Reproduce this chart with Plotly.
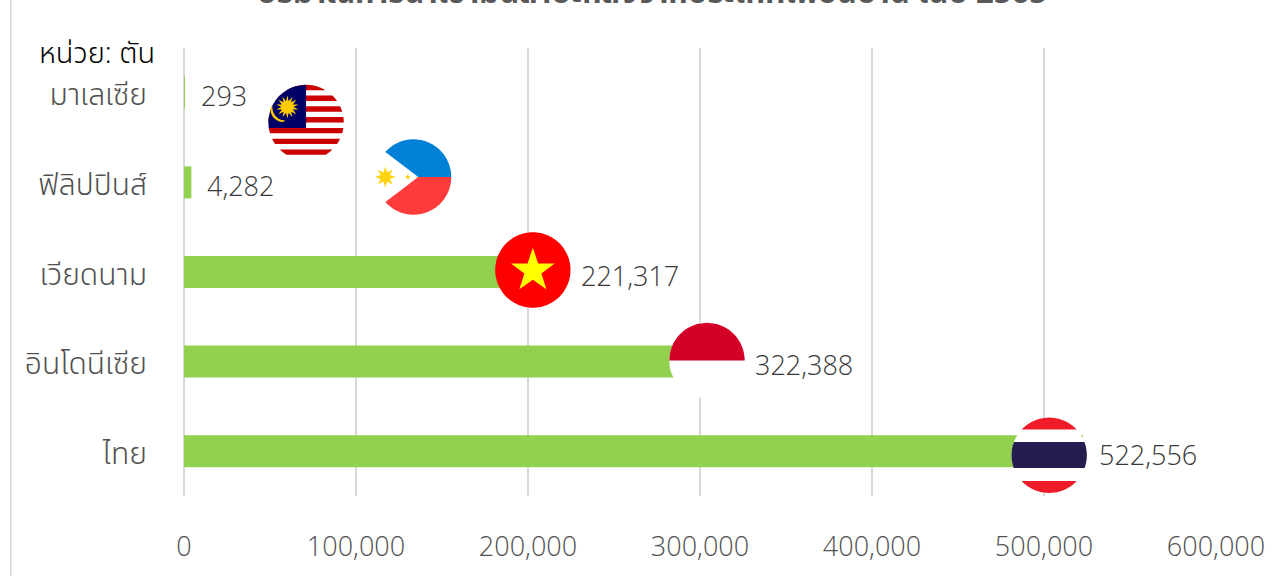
import numpy as np
import plotly.graph_objects as go

categories = ["ไทย", "อินโดนีเซีย", "เวียดนาม", "ฟิลิปปินส์", "มาเลเซีย"]
values = [522556, 322388, 221317, 4282, 293]
x_ticks = [0, 100000, 200000, 300000, 400000, 500000, 600000]
title_text = "ปริมาณการนำเข้ามันสำปะหลังจากประเทศเพื่อนบ้าน ในปี 2565"
unit_text = "หน่วย: ตัน"

W, H = 1280, 576
L, R, T, B = 183.5, 1216.5, 48, 496
FONT = "Open Sans, Noto Sans Thai, Noto Sans, sans-serif"
GRAY = "#505050"
LABEL = "#383838"

def px(x): return (x - L) / (R - L)
def py(y): return (B - y) / (B - T)

def path(points):
    return "M " + " L ".join(f"{px(x):.5f},{py(y):.5f}" for x, y in points) + " Z"

def poly(points, color):
    return dict(type="path", xref="paper", yref="paper", path=path(points),
                fillcolor=color, line=dict(width=0), layer="above")

def circle_pts(cx, cy, r, n=120):
    a = np.linspace(0, 2 * np.pi, n, endpoint=False)
    return list(zip(cx + r * np.cos(a), cy + r * np.sin(a)))

def band(cx, cy, r, y0, y1, x_max=None, n=30):
    """Part of a circle between two horizontal lines, optionally cut at x_max."""
    y0, y1 = max(y0, cy - r), min(y1, cy + r)
    ys = np.linspace(y0, y1, n)
    hw = np.sqrt(np.maximum(r * r - (ys - cy) ** 2, 0))
    left = list(zip(cx - hw, ys))
    rx = cx + hw if x_max is None else np.minimum(cx + hw, x_max)
    right = list(zip(rx, ys))
    return left + right[::-1]

def star(cx, cy, r_out, r_in, k):
    a = -np.pi / 2 + np.arange(2 * k) * np.pi / k
    rad = np.where(np.arange(2 * k) % 2 == 0, r_out, r_in)
    return list(zip(cx + rad * np.cos(a), cy + rad * np.sin(a)))

shapes = [dict(type="line", xref="paper", yref="paper", x0=px(10), x1=px(10), y0=py(0), y1=py(576),
               line=dict(color="#D9D9D9", width=1.5), layer="below")]

# Malaysia
cx, cy, r = 305.7, 122.5, 37.7
shapes.append(poly(circle_pts(cx, cy, r), "#FFFFFF"))
sh = 2 * r / 14
for k in range(0, 14, 2):
    shapes.append(poly(band(cx, cy, r, cy - r + k * sh, cy - r + (k + 1) * sh), "#CC0000"))
shapes.append(poly(band(cx, cy, r, cy - r, cy - r + 8 * sh, x_max=cx), "#010066"))
shapes.append(poly(star(287, 107, 11.5, 6, 14), "#FFCC00"))
a = np.linspace(np.radians(90), np.radians(185), 24)
outer = list(zip(283 + 13 * np.cos(a), 109 + 13 * np.sin(a)))
a2 = a[::-1]
inner = list(zip(285 + 13 * np.cos(a2), 107.5 + 13 * np.sin(a2)))
shapes.append(poly(outer + inner, "#FFCC00"))

# Philippines
cx, cy, r = 413.3, 177, 37.7
shapes.append(poly(circle_pts(cx, cy, r), "#FFFFFF"))
ang = np.arcsin(25 / r)
a = np.linspace(np.pi + ang, 2 * np.pi, 40)
shapes.append(poly([(418, cy)] + list(zip(cx + r * np.cos(a), cy + r * np.sin(a))), "#0081D5"))
a = np.linspace(0, np.pi - ang, 40)
shapes.append(poly([(418, cy)] + list(zip(cx + r * np.cos(a), cy + r * np.sin(a))), "#FF3A3A"))
shapes.append(poly(star(385, cy, 10.5, 5, 8), "#FFD40E"))
shapes.append(poly(star(407.5, cy, 3, 1.3, 5), "#FFD40E"))

# Vietnam
cx, cy, r = 532.7, 270, 37.7
shapes.append(poly(circle_pts(cx, cy, r), "#FF0000"))
shapes.append(poly(star(cx, 270.7, 23, 9, 5), "#FFFF00"))

# Indonesia
cx, cy, r = 707, 360.5, 37.7
shapes.append(poly(circle_pts(cx, cy, r), "#FFFFFF"))
shapes.append(poly(band(cx, cy, r, cy - r, cy), "#D30028"))

# Thailand
cx, cy, r = 1049.5, 455.3, 37.7
shapes.append(poly(circle_pts(cx, cy, r), "#FFFFFF"))
shapes.append(poly(band(cx, cy, r, cy - r, 429.5), "#EF1C27"))
shapes.append(poly(band(cx, cy, r, 442, 468), "#241D4F"))
shapes.append(poly(band(cx, cy, r, 481, cy + r), "#EF1C27"))

annotations = [
    dict(x=v, y=c, xref="x", yref="y", text=f"{v:,}", showarrow=False, xanchor="left",
         xshift=14, yshift=-3, font=dict(family=FONT, size=27, color=LABEL, weight=300))
    for c, v in zip(categories, values)
]
annotations.append(dict(x=px(156.5), y=py(52), xref="paper", yref="paper", text=unit_text, showarrow=False,
                        xanchor="right", yanchor="middle", font=dict(family=FONT, size=29, color="#000000", weight=300)))
annotations.append(dict(x=px(652), y=py(14.5), xref="paper", yref="paper", text=f"<b>{title_text}</b>", showarrow=False,
                        xanchor="center", yanchor="bottom", font=dict(family=FONT, size=31, color="#595959")))

fig = go.Figure(go.Bar(x=values, y=categories, orientation="h", marker=dict(color="#92D050", line=dict(width=0)),
                       width=0.357, hoverinfo="skip"))
fig.update_layout(
    width=W, height=H, margin=dict(l=L, r=W - R, t=T, b=H - B, autoexpand=False),
    plot_bgcolor="white", paper_bgcolor="white", showlegend=False,
    shapes=shapes, annotations=annotations,
    xaxis=dict(range=[0, 600000], tickvals=x_ticks, tickformat=",", showgrid=True, gridcolor="#D9D9D9", gridwidth=1.5,
               zeroline=True, zerolinecolor="#D9D9D9", zerolinewidth=1.5, ticks="outside", ticklen=27,
               tickcolor="rgba(0,0,0,0)", showline=False, tickfont=dict(family=FONT, size=27, color=GRAY, weight=300)),
    yaxis=dict(categoryorder="array", categoryarray=categories, showgrid=False, ticks="outside", ticklen=30,
               tickcolor="rgba(0,0,0,0)", showline=False, zeroline=False, ticklabelshift=2,
               tickfont=dict(family=FONT, size=30, color=GRAY, weight=300)),
)
fig.write_html("out.html", config={"displayModeBar": False},
               post_script="document.body.style.margin='0';document.body.style.overflow='hidden';")
